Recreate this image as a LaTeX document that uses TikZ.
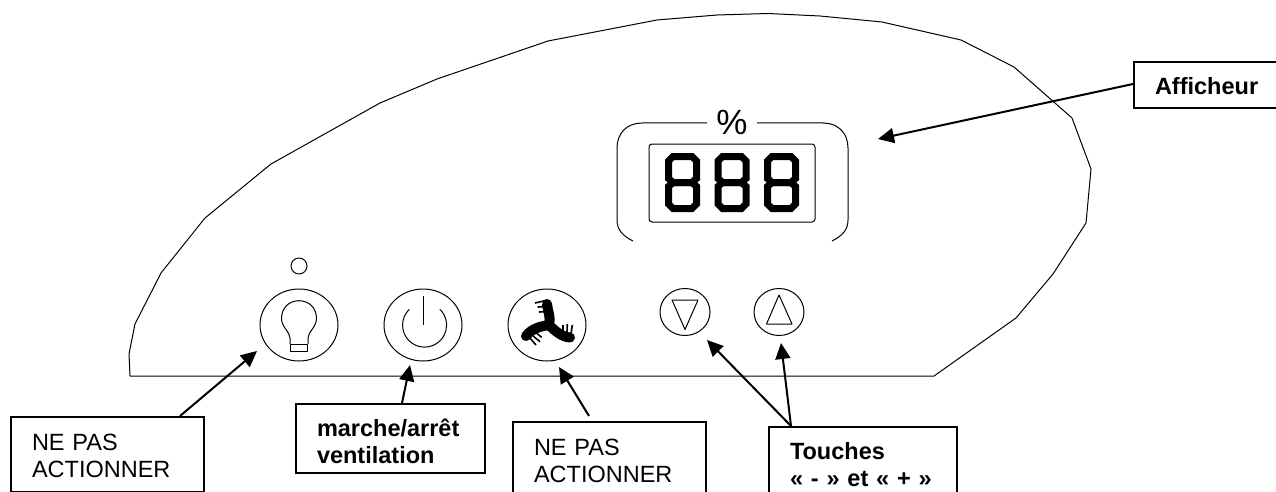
\documentclass[tikz,border=0pt]{standalone}
\usepackage{fontspec}
\setmainfont{Liberation Sans}
\usepackage{tikz}
\usetikzlibrary{arrows.meta, shapes.geometric}

\tikzset{
  thinline/.style={line width=1pt, line join=round},
  labelbox/.style={draw, line width=2pt, anchor=north west, inner xsep=21pt, inner ysep=0pt,
    align=left, font=\fontsize{23.5}{27.5}\selectfont},
  button/.style={draw, thinline, ellipse, inner sep=0pt},
  pointer/.style={line width=2pt, -{Triangle[length=16pt,width=15pt]}},
  blade/.style={line width=10pt, line cap=round, line join=round},
  bristle/.style={line width=1.6pt},
  segment/.style={line width=7pt, line join=miter}
}

\begin{document}
\begin{tikzpicture}[x=1pt, y=-1pt]
            \clip (0, 0) rectangle (1276, 492);
            \fill[white] (0, 0) rectangle (1276, 492);
            % outline of the panel
            \draw[thinline] (130, 376) -- (129, 354) -- (135, 324) -- (161, 273) -- (205, 218) -- (271, 164)
              -- (380, 103) -- (437, 79) -- (548, 41) -- (657, 20) -- (717, 15) -- (768, 13.5) -- (820, 16)
              -- (882, 22) -- (961, 40) -- (1014, 67) -- (1072, 118) -- (1091, 169) -- (1086, 223)
              -- (1053, 274) -- (1016, 318) -- (934, 376) -- cycle;
            % display
            \node[draw, thinline, rounded corners=3pt, minimum width=166pt, minimum height=78pt, inner sep=0pt] (screen) at (732, 183) {};
            \node[inner sep=0pt, font=\fontsize{35}{35}\selectfont] (percent) at (732, 122) {\%};
            \draw[thinline] (633, 241) .. controls (623, 236) and (617, 230) .. (617, 220) -- (617, 148)
              .. controls (617, 133) and (627, 123) .. (642, 123) -- (707, 123);
            \draw[thinline] (832, 241) .. controls (842, 236) and (848, 230) .. (848, 220) -- (848, 148)
              .. controls (848, 133) and (838, 123) .. (823, 123) -- (757, 123);
            \foreach \dx in {682.5, 732, 781.5} {
              \begin{scope}[shift={(\dx, 182.5)}]
                \draw[segment] (-9.5, -26) -- (9.5, -26) -- (14, -21.5) -- (14, -4) -- (9.5, 0) -- (-9.5, 0) -- (-14, -4) -- (-14, -21.5) -- cycle;
                \draw[segment] (-9.5, 0) -- (9.5, 0) -- (14, 4) -- (14, 21.5) -- (9.5, 26) -- (-9.5, 26) -- (-14, 21.5) -- (-14, 4) -- cycle;
              \end{scope}
            }
            % buttons
            \node[button, minimum width=16pt, minimum height=16pt] (led) at (299, 266) {};
            \node[button, minimum width=78pt, minimum height=72pt] (bulb) at (299, 325) {};
            \node[button, minimum width=78pt, minimum height=72pt] (power) at (423, 325) {};
            \node[button, minimum width=78pt, minimum height=72pt] (fan) at (547, 325) {};
            \node[button, minimum width=50pt, minimum height=47pt] (down) at (685, 312) {};
            \node[button, minimum width=50pt, minimum height=47pt] (up) at (779, 312) {};
            % bulb
            \draw[thinline] (290, 344) -- (290, 338) .. controls (290, 332) and (281.5, 327) .. (281.5, 318.5)
              .. controls (281.5, 308) and (289, 300.7) .. (299, 300.7) .. controls (309, 300.7) and (316.5, 308) .. (316.5, 318.5)
              .. controls (316.5, 327) and (308, 332) .. (308, 338) -- (308, 344);
            \draw[thinline] (290.5, 344) rectangle (307.5, 351);
            % power sign
            \draw[thinline] (423.3, 296) -- (423.3, 325);
            \draw[thinline] (409.3, 309.3) arc[start angle=134, end angle=406, radius=22pt];
            % fan
            \draw[blade] (547, 304) .. controls (548, 312) and (551, 318) .. (549, 325);
            \draw[blade] (549, 325) .. controls (542, 326) and (532, 328) .. (526, 336);
            \draw[blade] (549, 325) .. controls (555, 331) and (562, 337) .. (570, 337.5);
            \draw[bristle] (535, 303) -- (545, 300.7);
            \draw[bristle] (537.7, 307) -- (545, 306.7);
            \draw[bristle] (539, 312) -- (546, 311.7);
            \draw[bristle] (563, 325) -- (563, 331);
            \draw[bristle] (567.3, 324) -- (567, 332);
            \draw[bristle] (572.3, 325) -- (571, 334);
            \draw[bristle] (530, 338) -- (536, 345);
            \draw[bristle] (533, 336) -- (540, 341.7);
            \draw[bristle] (536.7, 333.3) -- (541.7, 337.3);
            % triangles of the keys
            \draw[thinline] (672, 300) -- (698, 300) -- (685, 329.5) -- cycle;
            \draw[thinline] (779, 295) -- (792, 324) -- (766.5, 324) -- cycle;
            % label boxes
            \node[labelbox, text width=151pt, text height=33pt, text depth=42pt] (nepasa) at (10, 416) {NE PAS\\ACTIONNER};
            \node[labelbox, text width=147pt, text height=32pt, text depth=37pt] (onoff) at (295, 403) {\textbf{marche/arrêt}\\\textbf{ventilation}};
            \node[labelbox, text width=151pt, text height=33pt, text depth=90pt] (nepasb) at (512, 421) {NE PAS\\ACTIONNER};
            \node[labelbox, text width=146pt, text height=32pt, text depth=90pt] (touches) at (768, 426) {\textbf{Touches}\\\textbf{« - » et « + »}};
            \node[labelbox, text width=200pt, text height=33pt, text depth=13pt] (afficheur) at (1133, 61) {\textbf{Afficheur}};
            % pointers
            \draw[pointer] ([xshift=170pt]nepasa.north west) -- ([shift={(-42, 26)}]bulb.center);
            \draw[pointer] ([xshift=107pt]onoff.north west) -- ([shift={(-13, 40)}]power.center);
            \draw[pointer] ([shift={(77, -5)}]nepasb.north west) -- ([shift={(12, 42)}]fan.center);
            \draw[pointer] ([xshift=23pt]touches.north west) -- ([shift={(22, 28)}]down.center);
            \draw[pointer] ([xshift=23pt]touches.north west) -- ([shift={(2, 31)}]up.center);
            \draw[pointer] ([shift={(0, 23)}]afficheur.north west) -- ([shift={(146, -44)}]screen.center);
\end{tikzpicture}
\end{document}
